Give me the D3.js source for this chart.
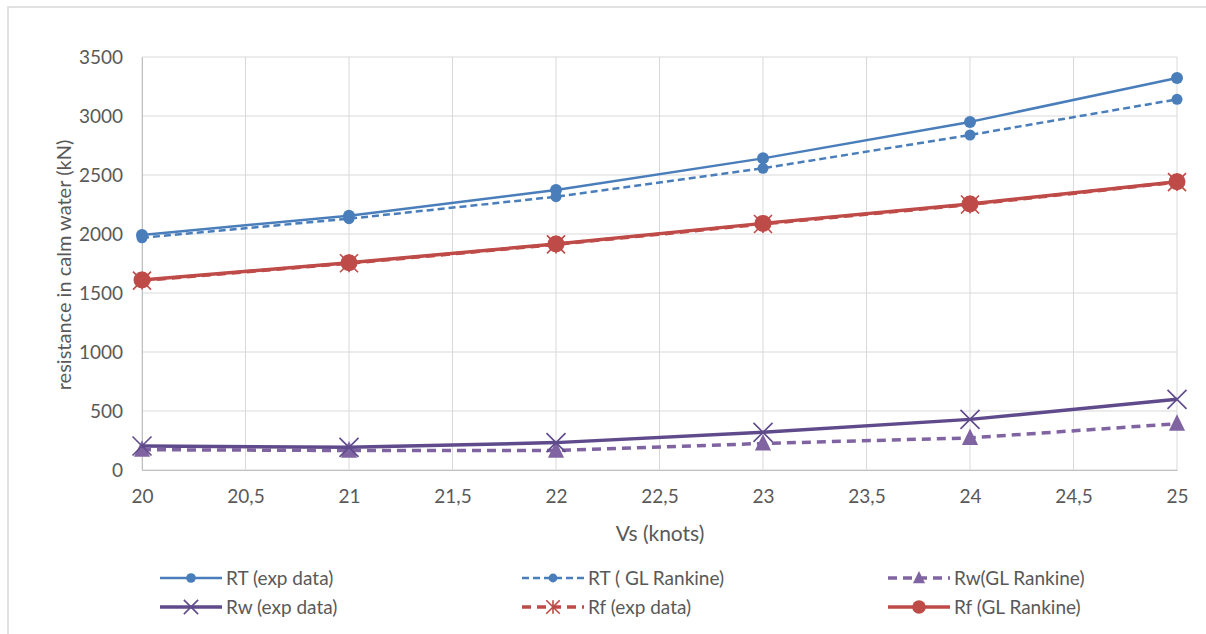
<!DOCTYPE html>
<html><head><meta charset="utf-8">
<script src="https://cdn.jsdelivr.net/npm/d3@7"></script>
<style>body{margin:0;background:#fff}svg{display:block}text{font-family:Lato,"Open Sans",sans-serif}</style>
</head><body><svg id="c" width="1206" height="634"></svg>
<script>
const speeds = [20, 21, 22, 23, 24, 25];
const rtExp = [1992, 2155, 2373, 2641, 2950, 3322];
const rtGL = [1968, 2130, 2316, 2557, 2839, 3141];
const rwGL = [172, 165, 165, 225, 272, 392];
const rwExp = [203, 192, 232, 319, 429, 599];
const rfExp = [1605, 1752, 1912, 2085, 2250, 2440];
const rfGL = [1610, 1757, 1915, 2090, 2254, 2443];
const xTicks = [20, 20.5, 21, 21.5, 22, 22.5, 23, 23.5, 24, 24.5, 25];
const yTicks = [0, 500, 1000, 1500, 2000, 2500, 3000, 3500];

const series = [
  {name: "RT (exp data)", values: rtExp, color: "#4A7EBB", width: 2.5, dash: null, marker: "circle", size: 6},
  {name: "RT ( GL Rankine)", values: rtGL, color: "#4A7EBB", width: 2.5, dash: "7,4", marker: "circle", size: 5.5},
  {name: "Rw(GL Rankine)", values: rwGL, color: "#8064A2", width: 3.5, dash: "9,6", marker: "triangle", size: 9.5},
  {name: "Rw (exp data)", values: rwExp, color: "#5F4B8B", width: 3.5, dash: null, marker: "x", size: 9.5},
  {name: "Rf (exp data)", values: rfExp, color: "#BE4B48", width: 3.5, dash: "9,6", marker: "star", size: 9},
  {name: "Rf (GL Rankine)", values: rfGL, color: "#BE4B48", width: 3.5, dash: null, marker: "circle", size: 8.5}
];

const svg = d3.select("#c");
svg.append("rect").attr("x", 8).attr("y", 7).attr("width", 1210).attr("height", 640)
  .attr("fill", "none").attr("stroke", "#d9d9d9").attr("stroke-width", 1.5);

const x = d3.scaleLinear().domain([20, 25]).range([142, 1177]);
const y = d3.scaleLinear().domain([0, 3500]).range([470, 57]);

const g = svg.append("g");
g.selectAll(".hg").data(yTicks).join("line")
  .attr("x1", x(20)).attr("x2", x(25)).attr("y1", d => y(d)).attr("y2", d => y(d))
  .attr("stroke", "#d9d9d9").attr("stroke-width", 1);
g.selectAll(".vg").data(xTicks).join("line")
  .attr("y1", y(0)).attr("y2", y(3500)).attr("x1", d => x(d)).attr("x2", d => x(d))
  .attr("stroke", "#d9d9d9").attr("stroke-width", 1);

const fmt = d => String(d).replace(".", ",");
const xa = svg.append("g").attr("transform", `translate(0,${y(0)})`)
  .call(d3.axisBottom(x).tickValues(xTicks).tickFormat(fmt).tickSize(0).tickPadding(20));
xa.select(".domain").attr("stroke", "#bfbfbf");
xa.selectAll("text").attr("fill", "#595959").attr("font-size", 19);
const ya = svg.append("g").attr("transform", `translate(${x(20)},0)`)
  .call(d3.axisLeft(y).tickValues(yTicks).tickFormat(d3.format("d")).tickSize(0).tickPadding(19));
ya.select(".domain").attr("stroke", "#bfbfbf");
ya.selectAll("text").attr("fill", "#595959").attr("font-size", 19);

svg.append("text").attr("x", 660).attr("y", 541).attr("text-anchor", "middle")
  .attr("fill", "#595959").attr("font-size", 21).text("Vs (knots)");
svg.append("text").attr("transform", "translate(71,265) rotate(-90)").attr("text-anchor", "middle")
  .attr("fill", "#595959").attr("font-size", 20).text("resistance in calm water  (kN)");

function drawMarker(sel, s, cx, cy, scale) {
  const r = s.size * scale;
  if (s.marker === "circle") {
    sel.append("circle").attr("cx", cx).attr("cy", cy).attr("r", r).attr("fill", s.color);
  } else if (s.marker === "triangle") {
    sel.append("path").attr("d", `M${cx},${cy - r}L${cx + r * 0.85},${cy + r * 0.75}L${cx - r * 0.85},${cy + r * 0.75}Z`)
      .attr("fill", s.color);
  } else if (s.marker === "x") {
    sel.append("path").attr("d", `M${cx - r},${cy - r}L${cx + r},${cy + r}M${cx - r},${cy + r}L${cx + r},${cy - r}`)
      .attr("stroke", s.color).attr("stroke-width", 1.6).attr("fill", "none");
  } else if (s.marker === "star") {
    sel.append("path").attr("d", `M${cx - r},${cy - r}L${cx + r},${cy + r}M${cx - r},${cy + r}L${cx + r},${cy - r}M${cx},${cy - r}L${cx},${cy + r}`)
      .attr("stroke", s.color).attr("stroke-width", 1.6).attr("fill", "none");
  }
}

const line = d3.line().x((d, i) => x(speeds[i])).y(d => y(d));
series.forEach(s => {
  const sg = svg.append("g");
  sg.append("path").datum(s.values).attr("d", line).attr("fill", "none")
    .attr("stroke", s.color).attr("stroke-width", s.width)
    .attr("stroke-dasharray", s.dash).attr("stroke-linejoin", "round");
  s.values.forEach((v, i) => drawMarker(sg, s, x(speeds[i]), y(v), 1));
});

const legPos = [[160, 578], [522, 578], [888, 578], [160, 607], [522, 607], [888, 607]];
series.forEach((s, i) => {
  const [lx, ly] = legPos[i];
  const lg = svg.append("g");
  lg.append("line").attr("x1", lx).attr("x2", lx + 62).attr("y1", ly).attr("y2", ly)
    .attr("stroke", s.color).attr("stroke-width", s.width).attr("stroke-dasharray", s.dash);
  drawMarker(lg, s, lx + 31, ly, s.marker === "circle" ? 0.8 : 0.75);
  lg.append("text").attr("x", lx + 66).attr("y", ly).attr("dy", "0.35em")
    .attr("fill", "#595959").attr("font-size", 19).text(s.name);
});
</script></body></html>
